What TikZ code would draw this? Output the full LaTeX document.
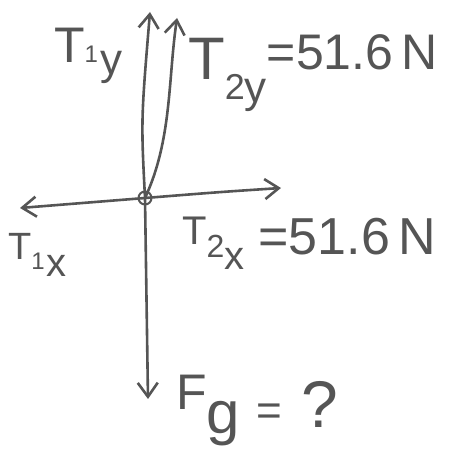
\documentclass[tikz,border=0pt]{standalone}
\usepackage{fontspec}
\setmainfont{Liberation Sans}
\usetikzlibrary{arrows.meta}
\definecolor{pen}{RGB}{85,85,85}
\newcommand{\fsz}[2]{{\fontsize{#1}{#1}\selectfont #2}}
\begin{document}
\begin{tikzpicture}[x=1pt,y=-1pt,
  vec/.style={draw=pen,line width=2.6pt,line cap=round,-{Straight Barb[length=14pt,width=20pt,line width=2.6pt]}},
  lbl/.style={text=pen,inner sep=0pt,anchor=base west}]
\useasboundingbox (0,0) rectangle (464,457);
\node[circle,draw=pen,line width=2pt,minimum size=13pt,inner sep=0pt] (o) at (145,198) {};
\coordinate (t1y) at (150,12);
\coordinate (t2y) at (177,18);
\coordinate (t1x) at (20,208);
\coordinate (t2x) at (281,188);
\coordinate (fg) at (148,399);
\draw[vec] (o.center) .. controls (141,120) .. (t1y);
\draw[vec] (o.center) .. controls (172,140) and (168,80) .. (t2y);
\draw[vec] (o.center) -- (t1x);
\draw[vec] (o.center) .. controls (220,192) .. (t2x);
\draw[vec] (o.center) -- (fg);
\node[lbl] (l1y) at (54,63) {\fsz{50}{T}\fsz{24}{1}\hspace{2pt}\raisebox{-12pt}{\fsz{44}{y}}};
\node[lbl] (l2y) at (188,80) {\fsz{60}{T}\raisebox{-20pt}{\fsz{36}{2}}\raisebox{-23pt}{\fsz{44}{y}}\raisebox{10pt}{\fsz{50}{=51.6\,N}}};
\node[lbl] (l1x) at (8,260) {\fsz{38}{T}\raisebox{-10pt}{\fsz{24}{1}}\hspace{2pt}\raisebox{-17pt}{\fsz{40}{x}}};
\node[lbl] (l2x) at (182,245) {\fsz{40}{T}\raisebox{-13pt}{\fsz{32}{2}}\raisebox{-25pt}{\fsz{40}{x}}\hspace{14pt}\raisebox{-10pt}{\fsz{52}{=51.6\,N}}};
\node[lbl] (lfg) at (176,410) {\fsz{50}{F}\raisebox{-24pt}{\fsz{60}{g}}\hspace{16pt}\raisebox{-16pt}{\fsz{44}{=}}\hspace{20pt}\raisebox{-18pt}{\fsz{66}{?}}};
\end{tikzpicture}
\end{document}
